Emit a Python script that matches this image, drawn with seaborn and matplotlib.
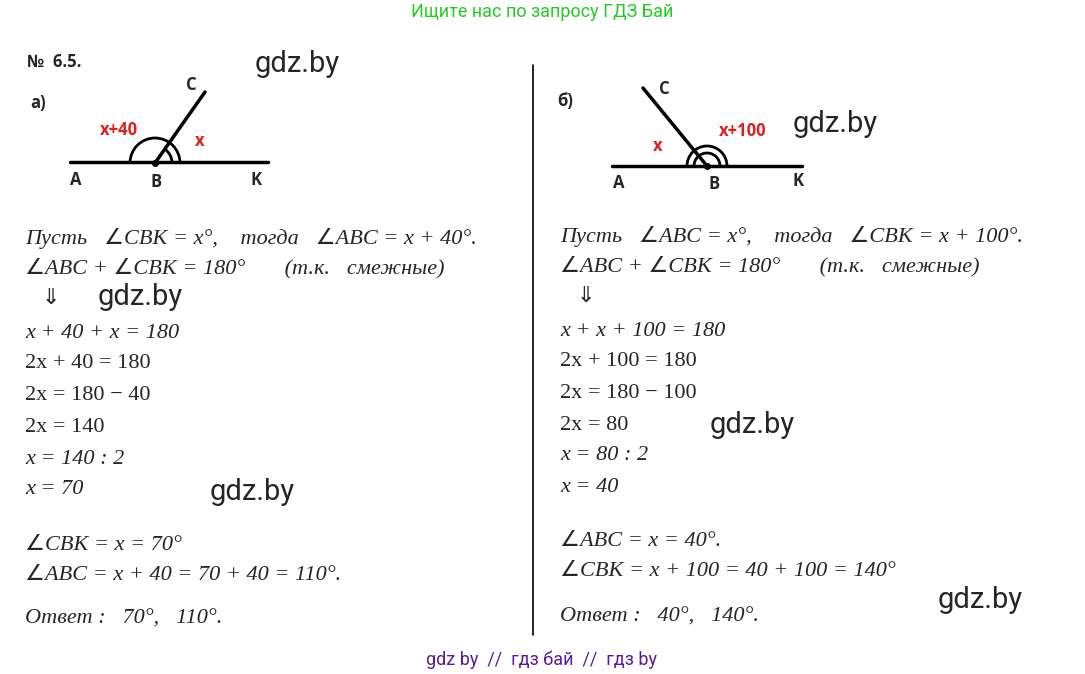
import numpy as np
import matplotlib.pyplot as plt
import seaborn as sns
from matplotlib.patches import Arc

sns.set_style("white")
plt.rcParams['font.family'] = ['Liberation Serif', 'DejaVu Sans']

# solution lines, part a) and part b)
left_lines = ["Пусть   ∠CBK = x°,    тогда   ∠ABC = x + 40°.",
              "∠ABC + ∠CBK = 180°       (т.к.   смежные)",
              "   ⇓",
              "x + 40 + x = 180",
              "2x + 40 = 180",
              "2x = 180 − 40",
              "2x = 140",
              "x = 140 : 2",
              "x = 70"]
left_y = [238, 268, 299, 333, 364, 395, 427, 459, 490]
left_result = ["∠CBK = x = 70°", "∠ABC = x + 40 = 70 + 40 = 110°.", "Ответ :   70°,   110°."]
left_result_y = [545, 576, 619]

right_lines = ["Пусть   ∠ABC = x°,    тогда   ∠CBK = x + 100°.",
               "∠ABC + ∠CBK = 180°       (т.к.   смежные)",
               "   ⇓",
               "x + x + 100 = 180",
               "2x + 100 = 180",
               "2x = 180 − 100",
               "2x = 80",
               "x = 80 : 2",
               "x = 40"]
right_y = [236, 266, 297, 331, 362, 393, 425, 456, 487]
right_result = ["∠ABC = x = 40°.", "∠CBK = x + 100 = 40 + 100 = 140°", "Ответ :   40°,   140°."]
right_result_y = [541, 572, 617]

watermarks = [(255, 64), (98, 297), (210, 492), (793, 124), (710, 425), (938, 600)]

fig = plt.figure(figsize=(10.85, 6.74), dpi=100)
ax = fig.add_axes([0, 0, 1, 1])
ax.set_xlim(0, 1085)
ax.set_ylim(674, 0)
ax.axis('off')

ax.text(542, 12, "Ищите нас по запросу ГДЗ Бай", color='#22cc22', fontsize=13,
        ha='center', va='center', family=['Roboto'])
ax.text(542, 660, "gdz by  //  гдз бай  //  гдз by", color='#5a1a9a', fontsize=13,
        ha='center', va='center', family=['Roboto'])
ax.plot([533, 533], [65, 635], color='black', lw=1.2)

for x, y in watermarks:
    ax.text(x, y, "gdz.by", fontsize=21, va='center', family=['Roboto'])

sans = ['Open Sans']
ax.text(27, 62, "№  6.5.", fontsize=12, weight='bold', va='center', family=sans)
ax.text(30, 103, "а)", fontsize=12, weight='bold', va='center', family=sans)
ax.text(557, 101, "б)", fontsize=12, weight='bold', va='center', family=sans)

# diagram a
ax.plot([70, 268], [162, 162], color='black', lw=2.5)
ax.plot([155, 205], [163, 92], color='black', lw=2.5)
ax.add_patch(Arc((155, 163), 50, 50, theta1=180, theta2=360, lw=2, color='black'))
ax.add_patch(Arc((155, 163), 34, 34, theta1=305, theta2=360, lw=2, color='black'))
ax.plot(155, 163, 'ko', ms=4)
for t, x, y in [("A", 70, 180), ("B", 150, 182), ("K", 250, 180), ("C", 186, 85)]:
    ax.text(x, y, t, fontsize=12, weight='bold', va='center', family=sans)
ax.text(100, 130, "x+40", fontsize=12, weight='bold', color='#e02020', va='center', family=sans)
ax.text(195, 141, "x", fontsize=12, weight='bold', color='#e02020', va='center', family=sans)

# diagram b
ax.plot([612, 802], [166, 166], color='black', lw=2.5)
ax.plot([707, 643], [166, 88], color='black', lw=2.5)
ax.add_patch(Arc((707, 166), 40, 40, theta1=180, theta2=360, lw=2, color='black'))
ax.add_patch(Arc((707, 166), 26, 26, theta1=180, theta2=360, lw=2, color='black'))
ax.plot(707, 166, 'ko', ms=4)
for t, x, y in [("A", 613, 183), ("B", 709, 184), ("K", 793, 181), ("C", 659, 89)]:
    ax.text(x, y, t, fontsize=12, weight='bold', va='center', family=sans)
ax.text(719, 131, "x+100", fontsize=12, weight='bold', color='#e02020', va='center', family=sans)
ax.text(653, 146, "x", fontsize=12, weight='bold', color='#e02020', va='center', family=sans)

for lines, ys, x0 in [(left_lines + left_result, left_y + left_result_y, 25),
                      (right_lines + right_result, right_y + right_result_y, 560)]:
    for s, y in zip(lines, ys):
        style = 'italic' if s[0] not in "⇓ 2" else 'normal'
        ax.text(x0, y, s, fontsize=16, style=style, va='center')

fig.savefig("out.png", dpi=100)
